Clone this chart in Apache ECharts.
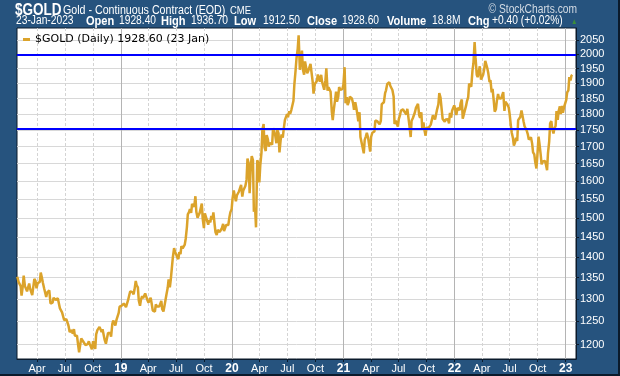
<!DOCTYPE html>
<html><head><meta charset="utf-8">
<script src="https://cdn.jsdelivr.net/npm/echarts@6/dist/echarts.min.js"></script>
<style>html,body{margin:0;padding:0;background:#26537e}#c{width:620px;height:376px}</style>
</head><body><div id="c"></div>
<script>
// ---- data: Friday closes and the following Tuesday ----
const seriesName = '$GOLD (Daily) 1928.60 (23 Jan)';
const firstFriday = [2018, 0, 26];
const fri2018 = [1352,1337,1308,1355,1330,1322,1324,1309,1347,1325,1335,1362,1338,1323,1315,1320,1291,1303,1298,1302,1279,1270,1253,1255,1241,1231,1223,1219,1219,1184,1213,1206,1199,1201,1201,1190,1207,1222,1229,1236,1233,1210,1203,1223,1217,1252,1241,1258,1283];
const tue2018 = [1340,1330,1330,1330,1318,1336,1326,1312,1342,1337,1340,1349,1325,1305,1313,1290,1292,1299,1297,1299,1277,1260,1253,1255,1227,1231,1233,1218,1198,1201,1214,1204,1202,1207,1203,1207,1191,1231,1238,1227,1232,1202,1225,1225,1244,1246,1254,1269,1284];
const fri2019 = [1285,1290,1282,1298,1318,1316,1322,1332,1297,1298,1302,1313,1298,1295,1291,1276,1288,1281,1287,1277,1283,1311,1346,1345,1400,1413,1400,1412,1427,1419,1445,1509,1523,1537,1529,1516,1506,1516,1497,1512,1493,1494,1505,1514,1462,1468,1463,1473,1465,1481,1481,1515];
const tue2019 = [1284,1288,1280,1310,1315,1311,1342,1327,1285,1307,1303,1314,1292,1303,1274,1272,1283,1283,1296,1272,1283,1326,1327,1346,1422,1406,1395,1407,1421,1431,1475,1515,1513,1541,1558,1500,1513,1538,1473,1508,1482,1488,1496,1483,1455,1472,1462,1484,1468,1480,1503,1523];
const fri2020 = [1552,1560,1560,1571,1589,1573,1586,1665,1566,1672,1516,1475,1654,1645,1752,1698,1735,1700,1713,1756,1735,1751,1683,1737,1753,1780,1790,1801,1810,1897,1986,2068,1944,1947,1975,1934,1948,1962,1866,1900,1930,1906,1905,1879,1951,1887,1872,1781,1840,1840,1888,1883];
const tue2020 = [1574,1544,1558,1569,1557,1569,1604,1650,1644,1660,1526,1660,1596,1683,1769,1687,1722,1711,1706,1745,1710,1740,1720,1727,1782,1800,1809,1813,1843,1944,2019,1946,2013,1929,1978,1943,1966,1907,1898,1908,1928,1929,1911,1910,1876,1885,1807,1818,1873,1855,1878,1882];
const fri2021 = [1895,1835,1829,1856,1850,1814,1823,1777,1729,1698,1720,1742,1733,1729,1744,1780,1777,1768,1832,1838,1877,1902,1892,1878,1769,1781,1784,1811,1815,1802,1817,1763,1779,1781,1819,1833,1788,1754,1751,1758,1757,1767,1796,1783,1816,1868,1852,1788,1783,1784,1804,1811,1828];
const tue2021 = [1955,1855,1840,1850,1834,1838,1799,1806,1733,1680,1731,1727,1685,1742,1746,1778,1779,1779,1837,1868,1898,1904,1894,1857,1779,1761,1797,1808,1808,1799,1813,1729,1787,1806,1814,1796,1806,1774,1733,1760,1759,1770,1793,1788,1831,1853,1785,1776,1785,1771,1789,1806,1814];
const fri2022 = [1797,1817,1835,1786,1807,1842,1899,1889,1967,1988,1921,1958,1918,1945,1974,1934,1911,1882,1808,1842,1851,1850,1871,1840,1830,1801,1742,1703,1727,1781,1791,1816,1762,1749,1721,1728,1683,1655,1672,1709,1648,1656,1648,1681,1771,1754,1755,1810,1810,1800,1804,1826];
const tue2022 = [1820,1813,1847,1801,1827,1855,1900,1944,2043,1929,1921,1913,1929,1977,1950,1904,1870,1842,1816,1865,1849,1854,1810,1835,1821,1764,1725,1713,1717,1775,1812,1776,1761,1736,1715,1709,1677,1636,1730,1676,1656,1658,1631,1716,1778,1740,1763,1782,1825,1826,1823,1846];
const fri2023 = [1870,1921,1926];
const tue2023 = [1877,1910];
const lastDay = [2023, 0, 23];
const lastClose = 1928.6;
const yTickValues = [1200,1250,1300,1350,1400,1450,1500,1550,1600,1650,1700,1750,1800,1850,1900,1950,2000,2050];
const levels = [2000, 1750];
const yRange = [1170, 2094.5];
const xRangeStart = [2018, 0, 25];
const xRangeEnd = [2023, 1, 4];
const monthLabels = {3: 'Apr', 6: 'Jul', 9: 'Oct'};

// ---- build ----
const fridays = [].concat(fri2018, fri2019, fri2020, fri2021, fri2022, fri2023);
const tuesdays = [].concat(tue2018, tue2019, tue2020, tue2021, tue2022, tue2023);
const data = [];
fridays.forEach((v, i) => {
  data.push([new Date(firstFriday[0], firstFriday[1], firstFriday[2] + 7 * i).getTime(), Math.log(v)]);
  if (i < tuesdays.length) {
    data.push([new Date(firstFriday[0], firstFriday[1], firstFriday[2] + 7 * i + 4).getTime(), Math.log(tuesdays[i])]);
  }
});
data.push([new Date(lastDay[0], lastDay[1], lastDay[2]).getTime(), Math.log(lastClose)]);

const xMin = new Date(xRangeStart[0], xRangeStart[1], xRangeStart[2]).getTime();
const xMax = new Date(xRangeEnd[0], xRangeEnd[1], xRangeEnd[2]).getTime();
const quarterTicks = [], yearTicks = [];
for (let y = 2018; y <= 2023; y++) {
  for (let m = 0; m < 12; m += 3) {
    const t = new Date(y, m, 1).getTime();
    if (t > xMin && t < xMax) {
      quarterTicks.push(t);
      if (m === 0) yearTicks.push(t);
    }
  }
}
const lnTicks = yTickValues.map(v => Math.log(v));

const SANS = "'Liberation Sans',Arial,sans-serif";
const frameDark = '#0b1a2b';

function txt(text, x, y, size, bold, color, align) {
  return {
    type: 'text', x: x, y: y, scaleX: 0.82, silent: true,
    style: {
      text: text, fill: color || '#fff',
      font: (bold ? 'bold ' : '') + size + 'px ' + SANS,
      textAlign: align || 'left', textVerticalAlign: 'middle',
      align: align || 'left', verticalAlign: 'middle'
    }
  };
}

const header = [
  txt('$GOLD', 15, 10, 16.5, true),
  txt('Gold - Continuous Contract (EOD)', 63, 10, 13, false),
  txt('CME', 230, 11, 11.5, false),
  txt('\u00A9 StockCharts.com', 577, 10, 12.5, false, '#d3dbe4', 'right'),
  txt('23-Jan-2023', 16, 21, 12.5, false),
  txt('Open', 86, 21, 13.5, true),
  txt('1928.40', 119, 21, 12.5, false),
  txt('High', 161, 21, 13.5, true),
  txt('1936.70', 191, 21, 12.5, false),
  txt('Low', 234, 21, 13.5, true),
  txt('1912.50', 263, 21, 12.5, false),
  txt('Close', 307, 21, 13.5, true),
  txt('1928.60', 342, 21, 12.5, false),
  txt('Volume', 387, 21, 13.5, true),
  txt('18.8M', 432, 21, 12.5, false),
  txt('Chg', 468, 21, 13.5, true),
  txt('+0.40 (+0.02%)', 492, 21, 12.5, false),
  txt('\u25B2', 571, 22, 8, false, '#3c8d3c'),
  {type: 'rect', silent: true, shape: {x: 618, y: 0, width: 2, height: 376}, style: {fill: frameDark}},
  {type: 'rect', silent: true, shape: {x: 0, y: 374, width: 620, height: 2}, style: {fill: frameDark}}
];

const chart = echarts.init(document.getElementById('c'), null, {renderer: 'canvas', width: 620, height: 376});
chart.setOption({
  backgroundColor: '#26537e',
  animation: false,
  grid: {left: 17, top: 28, right: 44, bottom: 17, show: true, backgroundColor: '#ffffff',
         borderColor: frameDark, borderWidth: 1, containLabel: false, outerBoundsMode: 'none'},
  legend: {
    show: true, left: 18, top: 29, icon: 'rect', itemWidth: 7, itemHeight: 3,
    textStyle: {color: '#000', fontFamily: "'DejaVu Sans',sans-serif", fontSize: 11},
    data: [seriesName], selectedMode: false
  },
  xAxis: [{
    type: 'value', min: xMin, max: xMax, scale: true,
    axisLine: {show: true, onZero: false, lineStyle: {color: frameDark}},
    axisTick: {show: true, customValues: quarterTicks, length: 3, lineStyle: {color: frameDark}},
    axisLabel: {
      customValues: quarterTicks, color: '#fff', fontSize: 11, fontFamily: SANS, margin: 4,
      showMinLabel: true, showMaxLabel: true, hideOverlap: false,
      formatter: function (v) {
        const d = new Date(v);
        if (d.getMonth() === 0) return '{yr|' + String(d.getFullYear()).slice(2) + '}';
        return monthLabels[d.getMonth()] || '';
      },
      rich: {yr: {fontWeight: 'bold', color: '#fff', fontSize: 12, fontFamily: SANS}}
    },
    splitLine: {show: true, lineStyle: {color: '#d4d4d4', width: 1, type: [3, 2]}}
  }, {
    type: 'value', min: xMin, max: xMax, scale: true, position: 'bottom',
    axisLine: {show: false, onZero: false},
    axisTick: {show: false, customValues: yearTicks},
    axisLabel: {show: false, customValues: yearTicks},
    splitLine: {show: true, lineStyle: {color: '#b4b4b4', width: 1}}
  }],
  yAxis: {
    type: 'value', position: 'right', min: Math.log(yRange[0]), max: Math.log(yRange[1]), scale: true,
    axisLine: {show: true, onZero: false, lineStyle: {color: frameDark}},
    axisTick: {show: true, customValues: lnTicks, length: 3, lineStyle: {color: frameDark}},
    axisLabel: {customValues: lnTicks, color: '#fff', fontSize: 11, fontFamily: SANS, margin: 4,
      formatter: function (v) { return String(Math.round(Math.exp(v))); }},
    splitLine: {show: true, lineStyle: {color: '#d8d8d8', width: 1}}
  },
  graphic: header,
  series: [{
    name: seriesName, type: 'line', xAxisIndex: 0, yAxisIndex: 0,
    data: data, showSymbol: false, symbol: 'none', silent: true,
    lineStyle: {color: '#dba32b', width: 2.5}, itemStyle: {color: '#dba32b'},
    markLine: {
      silent: true, symbol: 'none', label: {show: false},
      lineStyle: {color: '#0000ff', width: 2, type: 'solid'},
      data: levels.map(v => ({yAxis: Math.log(v)}))
    }
  }]
});
</script>
</body></html>
